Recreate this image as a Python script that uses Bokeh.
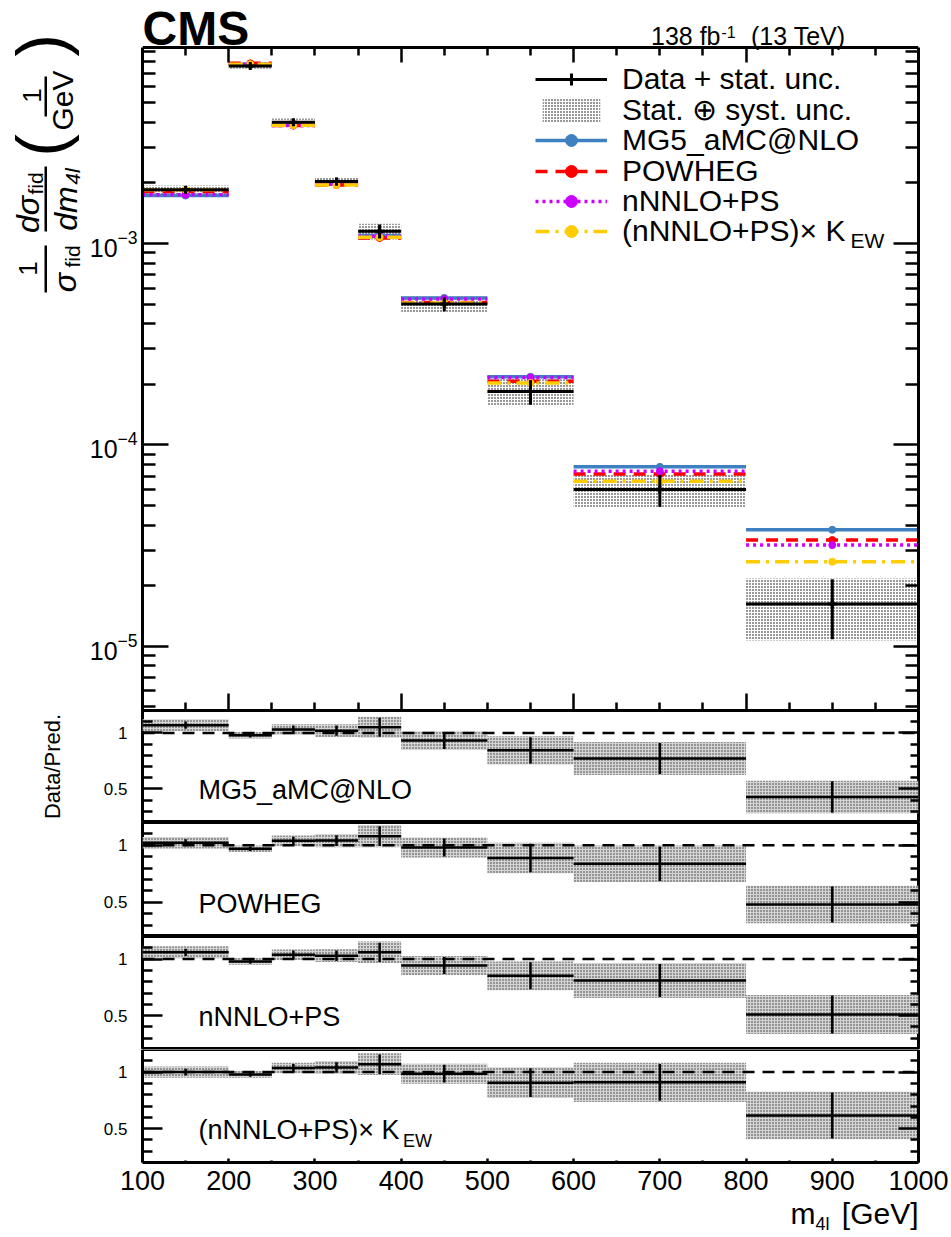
import numpy as np
from bokeh.plotting import figure
from bokeh.models import (Range1d, FixedTicker, LogTickFormatter, LinearAxis, LogAxis,
                          CustomJSTickFormatter, Label, BoxAnnotation, Legend, LegendItem,
                          ColumnDataSource)
from bokeh.layouts import column, row
from bokeh.embed import file_html
from bokeh.resources import INLINE

# ---- m4l bins and normalised differential cross sections (1/GeV) ----
bin_lo = [100, 200, 250, 300, 350, 400, 500, 600, 800]
bin_hi = [200, 250, 300, 350, 400, 500, 600, 800, 1000]
data = [1.85e-3, 7.6e-3, 4.0e-3, 2.03e-3, 1.15e-3, 5.0e-4, 1.84e-4, 6.0e-5, 1.62e-5]
stat_rel = [0.03, 0.02, 0.035, 0.045, 0.08, 0.08, 0.14, 0.18, 0.33]
tot_rel = [0.05, 0.03, 0.045, 0.055, 0.09, 0.09, 0.15, 0.19, 0.34]
mg5 = [1.73e-3, 7.76e-3, 3.88e-3, 1.99e-3, 1.095e-3, 5.37e-4, 2.18e-4, 7.78e-5, 3.79e-5]
powheg = [1.81e-3, 7.84e-3, 3.85e-3, 1.95e-3, 1.065e-3, 5.1e-4, 2.07e-4, 7.16e-5, 3.37e-5]
nnnlo = [1.745e-3, 7.76e-3, 3.85e-3, 1.97e-3, 1.085e-3, 5.3e-4, 2.16e-4, 7.4e-5, 3.18e-5]
nnnlo_kew = [1.85e-3, 7.76e-3, 3.86e-3, 1.95e-3, 1.075e-3, 5.07e-4, 2.03e-4, 6.6e-5, 2.63e-5]

x_major_main = [200, 400, 600, 800]
x_minor_main = [150, 250, 300, 350, 450, 500, 550, 650, 700, 750, 850, 900, 950]
x_ticks_ratio = [100, 200, 300, 400, 500, 600, 700, 800, 900, 1000]
x_minor_ratio = [150, 250, 350, 450, 550, 650, 750, 850, 950]
y_major_main = [1e-5, 1e-4, 1e-3]
y_minor_main = [m * 10.0 ** e for e in (-6, -5, -4, -3) for m in range(2, 10)]
r_major = [0.5, 1.0]
r_minor = [0.3, 0.4, 0.6, 0.7, 0.8, 0.9, 1.1]

FONT = "Liberation Sans"
BLUE, RED, VIOLET, GOLD = "#3f80c0", "#ff0000", "#cc00ff", "#ffcc00"
W, FL, FR = 951, 142, 33
YLAB_W = 85
DESC = 0.212  # font descent as a fraction of the font size

# page layout (pixels from the top of the page)
MAIN_TOP, MAIN_BOTTOM = 47, 710
X0, X1 = bin_lo[0], bin_hi[-1]
Y0, Y1 = 4.8e-6, 9.4e-3
R0, R1 = 0.2, 1.2
heights = [112, 114, 113, 113]
PAGE_H = 1237


def blank():
    return CustomJSTickFormatter(code="return ''")


def no_align(fig):
    try:
        fig.frame_align = False
    except Exception:
        pass
    return fig


def add_axis(fig, side, cls, ticks, minor, tin, tmin, formatter=None,
             size="0px", standoff=0, line=False, bounds=None, fixed=None):
    ax = cls(ticker=FixedTicker(ticks=ticks, minor_ticks=minor),
             formatter=formatter if formatter is not None else blank(),
             major_tick_in=tin, major_tick_out=0, minor_tick_in=tmin, minor_tick_out=0,
             major_tick_line_width=2.5, minor_tick_line_width=2.5,
             axis_line_color="black" if line else None, axis_line_width=3,
             major_label_text_font=FONT, major_label_text_color="black",
             major_label_text_font_size=size, major_label_standoff=standoff)
    if bounds is not None:
        ax.bounds = bounds
    if fixed is not None:
        ax.fixed_location = fixed
    fig.add_layout(ax, side)
    return ax


def plain(fig):
    fig.outline_line_color = None
    fig.background_fill_color = "white"
    fig.border_fill_color = "white"
    fig.grid.visible = False
    return no_align(fig)


def put(fig, x, y, text, size, align="left", rotated=False, centered=False,
        style="normal", frame=None):
    """Place text; (x, y) is the baseline point (page pixels) unless centered.

    With frame=(left, bottom) the point is turned into screen units of that frame,
    otherwise the figure's data coordinates are page pixels."""
    if centered:
        baseline = "middle"
    else:
        baseline = "bottom"
        if rotated:
            x = x + DESC * size
        else:
            y = y + DESC * size
    kw = {}
    if frame is not None:
        x, y = x - frame[0], frame[1] - y
        kw = dict(x_units="screen", y_units="screen")
    fig.add_layout(Label(x=x, y=y, text=text, text_font=FONT, text_font_size=f"{size}px",
                         text_font_style=style, text_align=align,
                         text_baseline=baseline, angle=np.pi / 2 if rotated else 0.0,
                         text_color="black", **kw))


def bar(fig, x0, x1, y0, y1):
    fig.add_layout(BoxAnnotation(left=x0, right=x1, top=y0, bottom=y1,
                                 fill_color="black", fill_alpha=1.0, line_color=None))


x_range = Range1d(X0, X1)


def base_fig(width, height, y_range, y_type, left, xr=None, right=FR, outline=True):
    f = figure(width=width, height=height, x_range=xr if xr is not None else x_range,
               y_range=y_range, y_axis_type=y_type, output_backend="svg",
               toolbar_location=None, min_border_left=left, min_border_right=right,
               min_border_top=0, min_border_bottom=0, x_axis_location=None,
               y_axis_location=None, title=None)
    plain(f)
    if outline:
        f.outline_line_color = "black"
        f.outline_line_width = 3
    return f


mid = [(a + b) / 2 for a, b in zip(bin_lo, bin_hi)]
d = np.array(data)
src = ColumnDataSource(dict(
    lo=bin_lo, hi=bin_hi, mid=mid, y=data,
    tot_lo=d * (1 - np.array(tot_rel)), tot_hi=d * (1 + np.array(tot_rel)),
    st_lo=d * (1 - np.array(stat_rel)), st_hi=d * (1 + np.array(stat_rel)),
    mg5=mg5, powheg=powheg, nnnlo=nnnlo, kew=nnnlo_kew))

# ---------------- main panel ----------------
# the frame reaches up to the page top so the header sits inside it; the
# visible box is drawn by the four axis lines
dec_px = (MAIN_BOTTOM - MAIN_TOP) / np.log10(Y1 / Y0)
y_ext = Y1 * 10 ** (MAIN_TOP / dec_px)
p = base_fig(W - YLAB_W, MAIN_BOTTOM, Range1d(Y0, y_ext), "log", FL - YLAB_W,
             outline=False)
add_axis(p, "left", LogAxis, y_major_main, y_minor_main, 26, 13,
         formatter=LogTickFormatter(), size="25px", standoff=5, line=True,
         bounds=(Y0, Y1))
add_axis(p, "right", LogAxis, y_major_main, y_minor_main, 25, 13, line=True,
         bounds=(Y0, Y1))
add_axis(p, "below", LinearAxis, x_major_main, x_minor_main, 17, 8, line=True)
add_axis(p, "above", LinearAxis, x_major_main, x_minor_main, 15, 8, line=True,
         fixed=Y1)

box_r = p.quad(left="lo", right="hi", bottom="tot_lo", top="tot_hi", source=src,
               fill_color=None, line_color=None, hatch_pattern="dot",
               hatch_color="black", hatch_scale=3, hatch_weight=1.6)

styles = [("mg5", BLUE, None), ("powheg", RED, "12 8"),
          ("nnnlo", VIOLET, "3 4"), ("kew", GOLD, "14 6 3 6")]
theory_r = []
for col, color, dash in styles:
    kw = dict(line_color=color, line_width=3.5)
    if dash:
        kw["line_dash"] = dash
    seg = p.segment(x0="lo", x1="hi", y0=col, y1=col, source=src, **kw)
    dot = p.scatter(x="mid", y=col, source=src, size=7, color=color)
    theory_r.append((seg, dot))

data_h = p.segment(x0="lo", x1="hi", y0="y", y1="y", source=src,
                   line_color="black", line_width=3)
p.segment(x0="mid", x1="mid", y0="st_lo", y1="st_hi", source=src,
          line_color="black", line_width=3)
data_pt = p.scatter(x="mid", y="y", source=src, marker="cross", size=8,
                    line_color="black", line_width=3)

# legend: one entry per box so the rows can be packed as tightly as in print
leg_text = ["Data + stat. unc.", "Stat. \u2295 syst. unc.", "MG5_aMC@NLO",
            "POWHEG", "nNNLO+PS", "(nNNLO+PS)\u00d7 K"]
leg_r = [[data_h, data_pt], [box_r]] + [[s, t] for s, t in theory_r]
ROW0, PITCH, ROW_BOX = 79.5, 30.4, 34
for i, (t, rr) in enumerate(zip(leg_text, leg_r)):
    centre = ROW0 + PITCH * i
    lg = Legend(items=[LegendItem(label=t, renderers=rr)],
                location=(393, round(MAIN_BOTTOM - centre - ROW_BOX / 2)),
                glyph_width=72, glyph_height=30, label_standoff=15,
                label_text_font=FONT, label_text_font_size="30px",
                label_text_color="black", padding=0, margin=0, spacing=0,
                border_line_color=None, background_fill_alpha=0)
    p.add_layout(lg)
MF = (FL, MAIN_BOTTOM)
put(p, 850, 247, "EW", 21, frame=MF)

# header
put(p, 142, 44, "CMS", 48, style="bold", frame=MF)
put(p, 720, 44, "138 fb", 25, align="right", frame=MF)
put(p, 721, 34, "-1", 16, frame=MF)
put(p, 845, 44, "(13 TeV)", 25, align="right", frame=MF)

# ---------------- y-axis title: 1/sigma_fid dsigma_fid/dm_4l (1/GeV) ----------------
ylab = figure(width=YLAB_W, height=MAIN_BOTTOM, x_range=Range1d(0, YLAB_W),
              y_range=Range1d(MAIN_BOTTOM, 0), output_backend="svg",
              toolbar_location=None, min_border_left=0, min_border_right=0,
              min_border_top=0, min_border_bottom=0, x_axis_location=None,
              y_axis_location=None, title=None)
plain(ylab)
put(ylab, 27, 268, "1", 26, align="center", rotated=True, centered=True)
bar(ylab, 44, 46.5, 245, 292)
put(ylab, 76, 282, "\u03c3", 32, align="center", rotated=True, style="italic")
put(ylab, 79, 256, "fid", 21, align="center", rotated=True)
put(ylab, 39, 214, "d\u03c3", 32, align="center", rotated=True, style="italic")
put(ylab, 42, 183, "fid", 21, align="center", rotated=True)
bar(ylab, 44, 46.5, 166, 231)
put(ylab, 77, 208, "dm", 32, align="center", rotated=True, style="italic")
put(ylab, 79, 176, "4l", 21, align="center", rotated=True, style="italic")
put(ylab, 40, 145, "(", 68, align="center", rotated=True, centered=True)
put(ylab, 40, 45, ")", 68, align="center", rotated=True, centered=True)
put(ylab, 31, 95, "1", 26, align="center", rotated=True, centered=True)
bar(ylab, 44, 46.5, 76, 116)
put(ylab, 62, 100, "GeV", 30, align="center", rotated=True, centered=True)

# ---------------- ratio panels ----------------
preds = [("MG5_aMC@NLO", mg5), ("POWHEG", powheg), ("nNNLO+PS", nnnlo),
         ("(nNNLO+PS)\u00d7 K", nnnlo_kew)]
ratio_figs = []
top = MAIN_BOTTOM
px_per_gev = (W - FL - FR) / (X1 - X0)
for k, ((name, pred), fh) in enumerate(zip(preds, heights)):
    last = k == len(preds) - 1
    fmt = CustomJSTickFormatter(code="return tick.toString()")
    if last:
        # the frame fills the whole canvas so tick labels and the axis title
        # are drawn inside it; the visible box comes from the axis lines
        extra = PAGE_H - top - fh
        r_lo = R0 - extra * (R1 - R0) / fh
        xr4 = Range1d(X0 - FL / px_per_gev, X1 + FR / px_per_gev)
        r = base_fig(W, PAGE_H - top, Range1d(r_lo, R1), "linear", 0, xr=xr4,
                     right=0, outline=False)
        add_axis(r, "left", LinearAxis, r_major, r_minor, 20, 10, formatter=fmt,
                 size="17px", standoff=15, line=True, bounds=(R0, R1), fixed=X0)
        add_axis(r, "right", LinearAxis, r_major, r_minor, 20, 8, line=True,
                 bounds=(R0, R1), fixed=X1)
        add_axis(r, "above", LinearAxis, [], [], 0, 0, line=True, bounds=(X0, X1),
                 fixed=R1)
        add_axis(r, "below", LinearAxis, x_ticks_ratio, x_minor_ratio, 4, 2,
                 formatter=CustomJSTickFormatter(code="return tick.toString()"),
                 size="27px", standoff=8, line=True, bounds=(X0, X1), fixed=R0)
    else:
        r = base_fig(W, fh, Range1d(R0, R1), "linear", FL)
        ax = add_axis(r, "left", LinearAxis, r_major, r_minor, 20, 10, formatter=fmt,
                      size="17px", standoff=15)
        if k == 0:
            ax.axis_label = "Data/Pred."
            ax.axis_label_text_font = FONT
            ax.axis_label_text_font_size = "22px"
            ax.axis_label_text_font_style = "normal"
            ax.axis_label_text_color = "black"
            ax.axis_label_standoff = 36
        add_axis(r, "right", LinearAxis, r_major, r_minor, 20, 8)
    pr = np.array(pred)
    rs = ColumnDataSource(dict(
        lo=bin_lo, hi=bin_hi, mid=mid, ratio=d / pr,
        b_lo=d * (1 - np.array(tot_rel)) / pr, b_hi=d * (1 + np.array(tot_rel)) / pr,
        s_lo=d * (1 - np.array(stat_rel)) / pr, s_hi=d * (1 + np.array(stat_rel)) / pr))
    r.quad(left="lo", right="hi", bottom="b_lo", top="b_hi", source=rs,
           fill_color="#d4d4d4", line_color=None, hatch_pattern="dot",
           hatch_color="#333333", hatch_scale=3, hatch_weight=1.0)
    # unity reference line across the m4l range
    r.line(x=[X0, X1], y=[1.0, 1.0], line_color="black", line_width=2.5,
           line_dash="12 8")
    r.segment(x0="lo", x1="hi", y0="ratio", y1="ratio", source=rs,
              line_color="black", line_width=2.5)
    r.segment(x0="mid", x1="mid", y0="s_lo", y1="s_hi", source=rs,
              line_color="black", line_width=2.5)
    r.add_layout(Label(x=165, y=0.355, text=name, text_font=FONT,
                       text_font_size="27px", text_color="black"))
    if last:
        r.add_layout(Label(x=402, y=0.30, text="EW", text_font=FONT,
                           text_font_size="18px", text_color="black"))
        XF = (0, PAGE_H)
        put(r, 790, 1223, "m", 30, frame=XF)
        put(r, 815, 1230, "4l", 18, frame=XF)
        put(r, 918, 1223, "[GeV]", 30, align="right", frame=XF)
    ratio_figs.append(r)
    top += fh

layout = column(row(ylab, p, spacing=0), *ratio_figs, spacing=0)
open("out.html", "w").write(file_html(layout, INLINE))
